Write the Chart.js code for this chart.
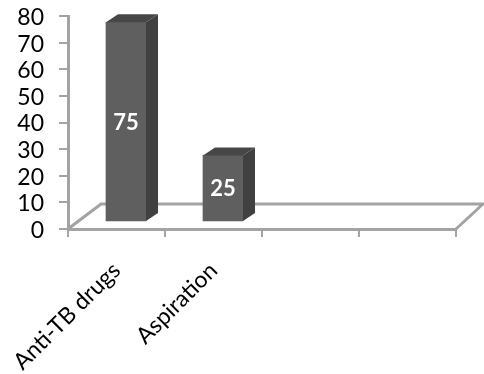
<!DOCTYPE html>
<html>
<head>
<meta charset="utf-8">
<style>
  html, body { margin: 0; background: #fff; }
  canvas { display: block; }
</style>
<script src="https://cdn.jsdelivr.net/npm/chart.js@4/dist/chart.umd.min.js"></script>
</head>
<body>
<canvas id="causesChart" width="484" height="374"></canvas>
<script>
const categories = ["Anti-TB drugs", "Aspiration", "", ""];
const caseValues = [75, 25, null, null];
const yTicks = [0, 10, 20, 30, 40, 50, 60, 70, 80];

const axisGrey = "#a3a3a3";
const labelFont = "Lato, Carlito, sans-serif";

// how far the bars sit back from the front edge of the floor
const shiftX = 9.5;
const shiftY = -7;
// extruded depth of each bar
const depthX = 12;
const depthY = -8;

const box3d = {
  id: "box3d",
  beforeDatasetsDraw(chart) {
    const ctx = chart.ctx;
    const { left, right, bottom } = chart.chartArea;

    // floor outline
    ctx.save();
    ctx.strokeStyle = axisGrey;
    ctx.lineWidth = 3;
    ctx.beginPath();
    ctx.moveTo(left, bottom);
    ctx.lineTo(left + 33, bottom - 25);
    ctx.lineTo(right + 27, bottom - 25);
    ctx.lineTo(right, bottom);
    ctx.stroke();
    ctx.restore();

    // bars get drawn a little up and to the right, on the floor
    ctx.save();
    ctx.translate(shiftX, shiftY);
  },
  afterDatasetsDraw(chart) {
    const ctx = chart.ctx;
    const bars = chart.getDatasetMeta(0).data;

    bars.forEach((bar, i) => {
      if (caseValues[i] === null) return;
      const l = bar.x - bar.width / 2;
      const r = bar.x + bar.width / 2;

      // side face
      ctx.fillStyle = "#404040";
      ctx.beginPath();
      ctx.moveTo(r, bar.y);
      ctx.lineTo(r + depthX, bar.y + depthY);
      ctx.lineTo(r + depthX, bar.base + depthY);
      ctx.lineTo(r, bar.base);
      ctx.closePath();
      ctx.fill();

      // top face
      ctx.fillStyle = "#474747";
      ctx.beginPath();
      ctx.moveTo(l, bar.y);
      ctx.lineTo(l + depthX, bar.y + depthY);
      ctx.lineTo(r + depthX, bar.y + depthY);
      ctx.lineTo(r, bar.y);
      ctx.closePath();
      ctx.fill();

      // value label
      ctx.fillStyle = "#ffffff";
      ctx.font = "bold 22px " + labelFont;
      ctx.textAlign = "center";
      ctx.textBaseline = "middle";
      ctx.fillText(String(caseValues[i]), bar.x, (bar.y + bar.base) / 2 + 1);
    });

    ctx.restore();
  }
};

new Chart(document.getElementById("causesChart"), {
  type: "bar",
  data: {
    labels: categories,
    datasets: [{
      data: caseValues,
      backgroundColor: "#5f5f5f",
      barThickness: 40,
      clip: false
    }]
  },
  options: {
    responsive: false,
    animation: false,
    layout: { padding: { top: 16, right: 28 } },
    plugins: { legend: { display: false }, tooltip: { enabled: false } },
    scales: {
      x: {
        // keep the plot box fixed, rotated labels must not push it around
        afterFit: s => {
          s.height = 145;
          s.paddingLeft = 0;
          s.paddingRight = 0;
        },
        grid: {
          offset: true,
          drawOnChartArea: false,
          color: axisGrey,
          lineWidth: 2,
          tickLength: 8
        },
        border: { color: axisGrey, width: 3 },
        ticks: {
          color: "#000000",
          font: { family: labelFont, size: 23 },
          minRotation: 45,
          maxRotation: 45,
          autoSkip: false,
          padding: 20
        }
      },
      y: {
        min: 0,
        max: 80,
        afterFit: s => {
          s.width = 68;
          s.paddingTop = 0;
          s.paddingBottom = 0;
        },
        afterBuildTicks: s => { s.ticks = yTicks.map(v => ({ value: v })); },
        grid: {
          drawOnChartArea: false,
          color: axisGrey,
          lineWidth: 2,
          tickLength: 9
        },
        border: { color: axisGrey, width: 3 },
        ticks: {
          color: "#000000",
          font: { family: labelFont, size: 23 },
          autoSkip: false,
          labelOffset: 1.5,
          padding: 15
        }
      }
    }
  },
  plugins: [box3d]
});
</script>
</body>
</html>
